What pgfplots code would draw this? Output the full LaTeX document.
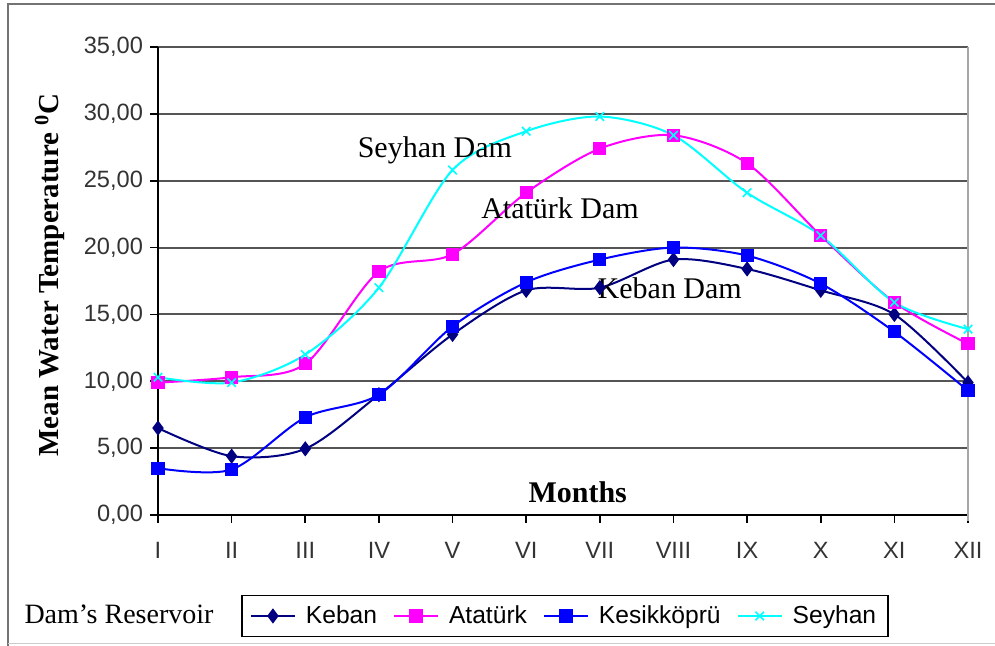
\documentclass[border=0pt]{standalone}
\usepackage{pgfplots}
\pgfplotsset{compat=1.18}
\usepackage{fontspec}
\setmainfont{Liberation Serif}
\newfontfamily\arial{Liberation Sans}
\definecolor{keban}{RGB}{0,0,128}
\definecolor{atat}{RGB}{255,0,255}
\definecolor{kesik}{RGB}{0,0,255}
\definecolor{seyhan}{RGB}{0,255,255}
\definecolor{gridc}{RGB}{85,85,85}
\begin{document}
\begin{tikzpicture}
\path[use as bounding box] (0,0) rectangle (497.5pt,323pt);
\draw[black!55, line width=0.8pt] (4pt,0pt) -- (4pt,321pt) -- (497.5pt,321pt);
\draw[black!20, line width=0.5pt] (4pt,1pt) -- (497.5pt,1pt);
\begin{axis}[
  at={(79pt,65.5pt)}, anchor=south west,
  scale only axis, width=405pt, height=234pt,
  xmin=0, xmax=11, ymin=0, ymax=35,
  xtick={0,...,11},
  xticklabels={I,II,III,IV,V,VI,VII,VIII,IX,X,XI,XII},
  ytick={0,5,...,35},
  axis x line*=bottom, axis y line*=left,
  axis line style={black, line width=1pt, -},
  tick align=outside, major tick length=4pt,
  tick style={black, line width=0.8pt},
  ymajorgrids, grid style={gridc, line width=1pt},
  /pgf/number format/assume math mode=true,
  yticklabel style={/pgf/number format/.cd, fixed, fixed zerofill, precision=2, use comma},
  ticklabel style={font=\arial\fontsize{11.8}{13}\selectfont, text=black!80},
  xticklabel style={yshift=-6pt},
  legend style={at={(0.5025,-0.2158)}, anchor=center, legend columns=4,
    draw=black, line width=0.8pt, inner xsep=4pt, inner ysep=3pt,
    font=\arial\fontsize{12.3}{14}\selectfont,
    /tikz/every odd column/.append style={column sep=3pt},
    /tikz/every even column/.append style={column sep=6pt}},
  legend image code/.code={
    \draw[mark repeat=2, mark phase=2, #1] plot coordinates {(0pt,0pt) (11pt,0pt) (22pt,0pt)};
  },
  clip=false,
]
\addplot[keban, line width=1pt, smooth, tension=0.5, mark=diamond*, mark size=3pt, mark options={fill=keban, solid}]
  coordinates {(0,6.5) (1,4.4) (2,4.95) (3,9.0) (4,13.5) (5,16.8) (6,17.0) (7,19.1) (8,18.4) (9,16.8) (10,15.0) (11,9.9)};
\addlegendentry{Keban}
\addplot[atat, line width=1pt, smooth, tension=0.5, mark=square*, mark size=2.8pt, mark options={fill=atat, solid}]
  coordinates {(0,9.9) (1,10.3) (2,11.3) (3,18.2) (4,19.5) (5,24.1) (6,27.4) (7,28.4) (8,26.3) (9,20.9) (10,15.9) (11,12.8)};
\addlegendentry{Atatürk}
\addplot[kesik, line width=1pt, smooth, tension=0.5, mark=square*, mark size=2.8pt, mark options={fill=kesik, solid}]
  coordinates {(0,3.5) (1,3.4) (2,7.3) (3,9.0) (4,14.1) (5,17.4) (6,19.1) (7,20.0) (8,19.4) (9,17.3) (10,13.7) (11,9.3)};
\addlegendentry{Kesikköprü}
\addplot[seyhan, line width=1pt, smooth, tension=0.5, mark=x, mark size=3pt, mark options={solid, line width=0.8pt}]
  coordinates {(0,10.3) (1,9.9) (2,12.0) (3,17.0) (4,25.8) (5,28.7) (6,29.8) (7,28.4) (8,24.1) (9,20.9) (10,15.9) (11,13.9)};
\addlegendentry{Seyhan}
\draw[black!35, line width=1pt] (rel axis cs:1,0) ++(0,-3pt) -- (rel axis cs:1,1);
\node[font=\fontsize{15}{18}\selectfont] at (axis cs:3.76,27.3) {Seyhan Dam};
\node[font=\fontsize{15}{18}\selectfont] at (axis cs:5.46,22.96) {Atatürk Dam};
\node[font=\fontsize{15}{18}\selectfont] at (axis cs:6.95,16.98) {Keban Dam};
\node[font=\bfseries\fontsize{15}{18}\selectfont] at (axis cs:5.70,1.72) {Months};
\end{axis}
\node[rotate=90, font=\bfseries\fontsize{14.5}{17}\selectfont] at (25pt,185.5pt) {Mean Water Temperature \textsuperscript{0}C};
\node[font=\fontsize{14}{16}\selectfont] at (59.5pt,16pt) {Dam's Reservoir};
\end{tikzpicture}
\end{document}
